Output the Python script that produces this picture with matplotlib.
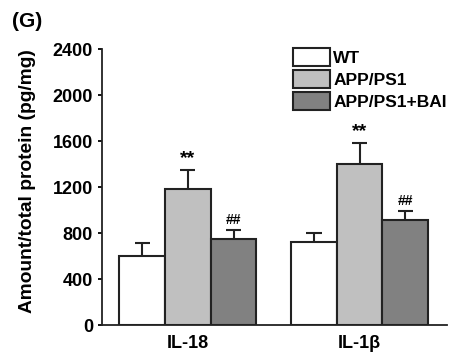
import numpy as np
import matplotlib
matplotlib.use("Agg")
import matplotlib.pyplot as plt
from matplotlib.patches import Patch

# data
groups = ['IL-18', 'IL-1\u03b2']
series = ['WT', 'APP/PS1', 'APP/PS1+BAI']
means = {'WT': [600, 720], 'APP/PS1': [1180, 1400], 'APP/PS1+BAI': [745, 910]}
sems = {'WT': [110, 80], 'APP/PS1': [170, 180], 'APP/PS1+BAI': [85, 80]}
marks = {'APP/PS1': '**', 'APP/PS1+BAI': '##'}
yticks = [0, 400, 800, 1200, 1600, 2000, 2400]

fill = {'WT': '#ffffff', 'APP/PS1': '#c0c0c0', 'APP/PS1+BAI': '#818181'}
edge = '#222222'

plt.rcParams['font.family'] = ['Liberation Sans', 'DejaVu Sans']

fig = plt.figure(figsize=(4.49, 3.56), dpi=100)
ax = fig.add_axes([0.227, 0.087, 0.769, 0.775])

w = 0.266
x = np.arange(len(groups))
for i, s in enumerate(series):
    xs = x + (i - 1) * w
    ax.bar(xs, means[s], w, color=fill[s], edgecolor=edge, linewidth=1.5, zorder=2)
    m = np.array(means[s]); e = np.array(sems[s])
    ax.vlines(xs, m, m + e, color=edge, lw=1.5, zorder=1)
    ax.hlines(m + e, xs - w / 6, xs + w / 6, color=edge, lw=1.5, zorder=1)
    if s in marks:
        for xx, top in zip(xs, m + e):
            ax.text(xx, top + 25, marks[s], ha='center', va='bottom',
                    fontsize=14 if s == 'APP/PS1' else 10, fontweight='bold')

ax.set_xlim(-0.5, 1.51)
ax.set_ylim(0, 2400)
ax.set_yticks(yticks)
ax.set_xticks(x)
ax.set_xticklabels(groups, fontsize=13, fontweight='bold')
ax.tick_params(axis='x', length=0, pad=7)
ax.tick_params(axis='y', direction='out', length=3, width=1.3, labelsize=13, pad=3.5)
for lab in ax.get_yticklabels():
    lab.set_fontweight('bold')
for sp in ['top', 'right']:
    ax.spines[sp].set_visible(False)
for sp in ['left', 'bottom']:
    ax.spines[sp].set_linewidth(1.3)
    ax.spines[sp].set_color(edge)
ax.set_ylabel('Amount/total protein (pg/mg)', fontsize=13.8, fontweight='bold')
ax.yaxis.set_label_coords(-0.19, 0.52)

handles = [Patch(facecolor=fill[s], edgecolor=edge, linewidth=1.5) for s in series]
ax.legend(handles, series, loc='upper left', bbox_to_anchor=(0.554, 1.005), frameon=False,
          prop={'weight': 'bold', 'size': 12.5}, handlelength=2.13, handleheight=1.25,
          handletextpad=0.17, labelspacing=0.22, borderpad=0, borderaxespad=0)

fig.text(0.027, 0.94, '(G)', fontsize=15, fontweight='bold', va='center')

fig.savefig('out.png', dpi=100)
